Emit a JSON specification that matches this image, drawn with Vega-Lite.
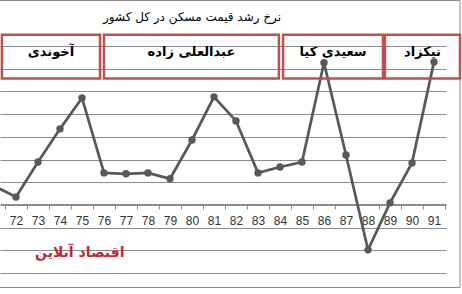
{
  "$schema": "https://vega.github.io/schema/vega-lite/v6.json",
  "width": 446,
  "height": 227,
  "autosize": {"type": "none"},
  "padding": {"left": 0, "top": 46, "right": 16, "bottom": 21},
  "background": "white",
  "config": {"view": {"stroke": null}, "font": "DejaVu Sans"},
  "layer": [
    {
      "data": {"values": [{"from": 70, "to": 92.18, "top": 90.04, "bottom": -36.39}]},
      "mark": {"type": "rect", "fill": null, "stroke": "#8a8a8a", "strokeWidth": 1, "clip": false},
      "encoding": {
        "x": {"field": "from", "type": "quantitative"},
        "x2": {"field": "to"},
        "y": {"field": "top", "type": "quantitative"},
        "y2": {"field": "bottom"}
      }
    },
    {
      "data": {"values": [
        {"year": 71, "rate": 8.4},
        {"year": 72, "rate": 3.5},
        {"year": 73, "rate": 18.9},
        {"year": 74, "rate": 33.5},
        {"year": 75, "rate": 47.1},
        {"year": 76, "rate": 14.1},
        {"year": 77, "rate": 13.7},
        {"year": 78, "rate": 14.1},
        {"year": 79, "rate": 11.5},
        {"year": 80, "rate": 28.6},
        {"year": 81, "rate": 47.6},
        {"year": 82, "rate": 37.0},
        {"year": 83, "rate": 14.1},
        {"year": 84, "rate": 16.7},
        {"year": 85, "rate": 18.9},
        {"year": 86, "rate": 62.6},
        {"year": 87, "rate": 22.0},
        {"year": 88, "rate": -19.8},
        {"year": 89, "rate": 0.9},
        {"year": 90, "rate": 18.5},
        {"year": 91, "rate": 63.0}
      ]},
      "layer": [
        {
          "mark": {"type": "line", "color": "#595959", "strokeWidth": 2.75, "clip": true},
          "encoding": {
            "x": {
              "field": "year",
              "type": "quantitative",
              "scale": {"domain": [71.273, 91.545], "nice": false, "zero": false},
              "axis": {
                "title": null,
                "grid": false,
                "offset": -69,
                "tickCount": 40,
                "values": [71.5, 72.5, 73.5, 74.5, 75.5, 76.5, 77.5, 78.5, 79.5, 80.5, 81.5, 82.5, 83.5, 84.5, 85.5, 86.5, 87.5, 88.5, 89.5, 90.5, 91.5],
                "labelExpr": "datum.value < 91 ? format(datum.value + 0.5, 'd') : ''",
                "labelOffset": 11,
                "labelFlush": false,
                "labelOverlap": false,
                "labelBound": false,
                "labelFont": "Liberation Sans",
                "labelFontSize": 12,
                "labelColor": "#333333",
                "labelPadding": 6,
                "tickSize": 5,
                "tickColor": "#8a8a8a",
                "domainColor": "#8a8a8a",
                "domainWidth": 1
              }
            },
            "y": {
              "field": "rate",
              "type": "quantitative",
              "scale": {"domain": [-30, 70], "nice": false, "zero": false},
              "axis": {
                "title": null,
                "tickCount": 30,
                "values": [-30, -20, -10, 0, 10, 20, 30, 40, 50, 60, 70],
                "grid": true,
                "gridColor": "#8c8c8c",
                "gridWidth": 1,
                "labels": false,
                "ticks": false,
                "domain": false
              }
            }
          }
        },
        {
          "mark": {"type": "circle", "color": "#595959", "size": 55, "opacity": 1, "clip": true},
          "encoding": {
            "x": {"field": "year", "type": "quantitative"},
            "y": {"field": "rate", "type": "quantitative"}
          }
        }
      ]
    },
    {
      "data": {"values": [
        {"name": "آخوندی", "from": 71.36, "to": 75.82},
        {"name": "عبدالعلی زاده", "from": 76.0, "to": 83.95},
        {"name": "سعیدی کیا", "from": 84.14, "to": 88.68},
        {"name": "نیکزاد", "from": 88.77, "to": 92.18}
      ]},
      "transform": [{"calculate": "(datum.from + datum.to) / 2", "as": "mid"}],
      "layer": [
        {
          "mark": {"type": "rect", "fill": null, "stroke": "#c0504d", "strokeWidth": 2.5, "clip": false},
          "encoding": {
            "x": {"field": "from", "type": "quantitative"},
            "x2": {"field": "to"},
            "y": {"datum": 75, "type": "quantitative"},
            "y2": {"datum": 55.7}
          }
        },
        {
          "mark": {"type": "text", "font": "DejaVu Sans", "fontWeight": "bold", "fontSize": 13, "color": "#000000", "baseline": "middle", "align": "center", "clip": false},
          "encoding": {
            "x": {"field": "mid", "type": "quantitative"},
            "y": {"datum": 67.5, "type": "quantitative"},
            "text": {"field": "name"}
          }
        }
      ]
    },
    {
      "data": {"values": [{"title": "نرخ رشد قیمت مسکن در کل کشور"}]},
      "mark": {"type": "text", "font": "DejaVu Sans", "fontWeight": "normal", "fontSize": 12, "color": "#000000", "baseline": "middle", "align": "center", "clip": false},
      "encoding": {
        "x": {"datum": 80, "type": "quantitative"},
        "y": {"datum": 82.8, "type": "quantitative"},
        "text": {"field": "title"}
      }
    },
    {
      "data": {"values": [{"brand": "اقتصاد آنلاین"}]},
      "mark": {"type": "text", "font": "DejaVu Sans", "fontWeight": "bold", "fontSize": 14, "color": "#c0282d", "baseline": "middle", "align": "center", "clip": false},
      "encoding": {
        "x": {"datum": 74.9, "type": "quantitative"},
        "y": {"datum": -21, "type": "quantitative"},
        "text": {"field": "brand"}
      }
    }
  ]
}
